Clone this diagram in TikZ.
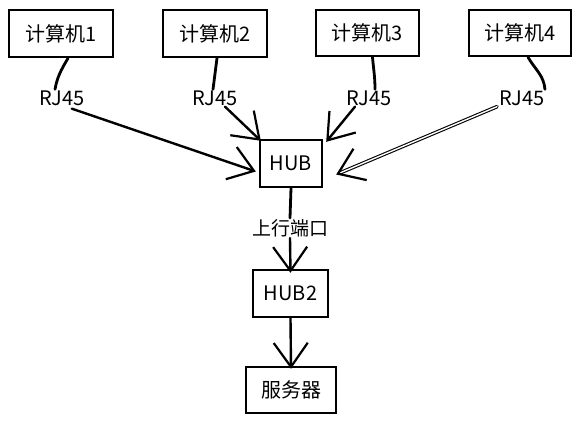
\documentclass[tikz,border=0pt]{standalone}
\usepackage{fontspec}
\setmainfont{Noto Sans CJK SC}
\usetikzlibrary{arrows.meta}
\begin{document}
\begin{tikzpicture}[x=1pt,y=-1pt,
  box/.style={draw=black,line width=2.4pt,fill=white,inner sep=0pt,font=\fontsize{20}{22}\selectfont},
  lbl/.style={inner sep=1pt,font=\fontsize{20}{22}\selectfont},
  wire/.style={line width=2.8pt,line cap=round},
  tip/.style={-{Straight Barb[length=24pt,width=34pt,line width=2.2pt]}},
  arr/.style={line width=2.4pt,line cap=round,tip}]
\useasboundingbox[fill=white] (0,0) rectangle (582,425);
\node[box,minimum width=104pt,minimum height=47pt] (c1) at (61,33.5) {计算机1};
\node[box,minimum width=104pt,minimum height=47pt] (c2) at (215,33.5) {计算机2};
\node[box,minimum width=103pt,minimum height=46pt] (c3) at (367.5,33) {计算机3};
\node[box,minimum width=102pt,minimum height=46pt] (c4) at (520,33) {计算机4};
\node[lbl] (r1) at (62,98) {RJ45};
\node[lbl] (r2) at (215,98) {RJ45};
\node[lbl] (r3) at (369,98) {RJ45};
\node[lbl] (r4) at (522,98) {RJ45};
\node[box,minimum width=62pt,minimum height=47pt] (hub) at (291,163.5) {HUB};
\node[lbl,font=\fontsize{19}{21}\selectfont] (up) at (290,228) {上行端口};
\node[box,minimum width=75pt,minimum height=47pt] (hub2) at (290.5,293.5) {HUB2};
\node[box,minimum width=90pt,minimum height=46pt] (srv) at (291,390) {服务器};
% computer to RJ45
\draw[wire] ([xshift=7pt]c1.south) to[out=240,in=80] ([xshift=-7pt]r1.north);
\draw[wire] ([xshift=2pt]c2.south) -- ([xshift=-2pt]r2.north);
\draw[wire] ([xshift=5pt]c3.south) to[out=275,in=90] ([xshift=6pt]r3.north);
\draw[wire] ([xshift=8pt]c4.south) to[out=300,in=95] ([xshift=23pt]r4.north);
% RJ45 to hub
\draw[arr] ([xshift=-14pt,yshift=-2pt]r1.south east) -- ([xshift=-3pt,yshift=-8pt]hub.west);
\draw[arr] ([xshift=10pt]r2.south) -- ([xshift=2pt,yshift=-2pt]hub.north west);
\draw[arr] ([xshift=-14pt]r3.south) -- ([xshift=3pt,yshift=-3pt]hub.north east);
\draw[line cap=round,double=white,double distance=1.4pt,line width=1.1pt,tip] ([xshift=-25pt]r4.south) -- ([xshift=13pt,yshift=-11pt]hub.east);
% hub down
\draw[wire] (hub.south) -- (up.north);
\draw[arr] (up.south) -- ([yshift=-4pt]hub2.north);
\draw[arr] (hub2.south) -- ([yshift=-3pt]srv.north);
\end{tikzpicture}
\end{document}
